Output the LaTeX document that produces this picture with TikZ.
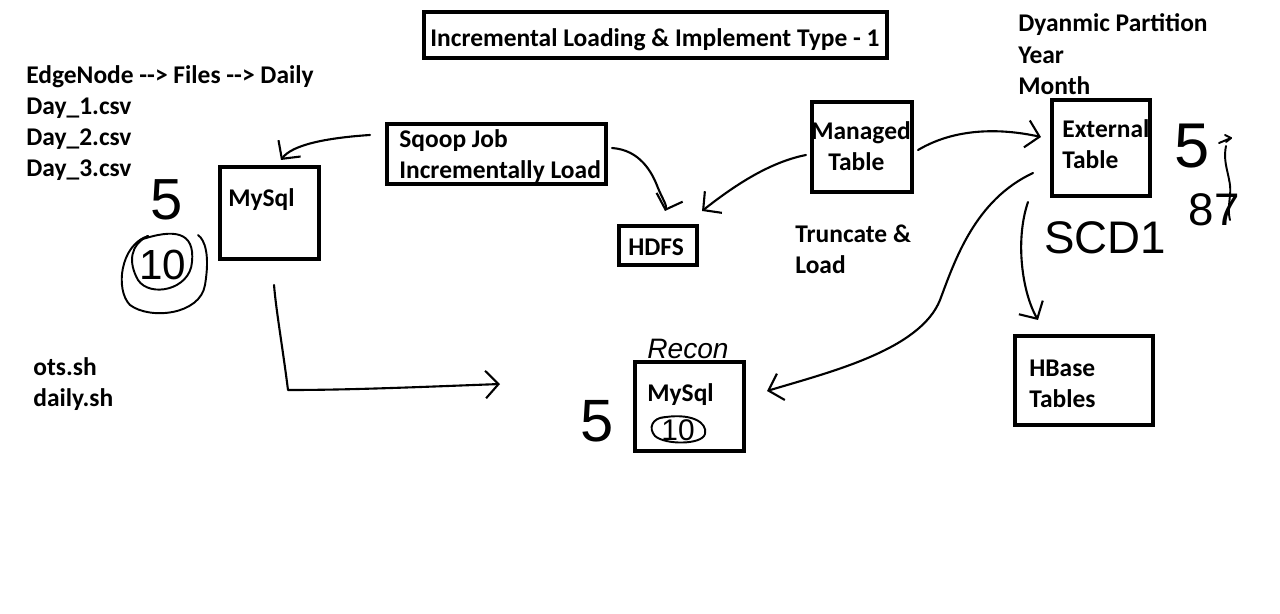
\documentclass[tikz,border=0pt]{standalone}
\usepackage{fontspec}
\setmainfont{Carlito}
\newfontfamily\hand{Liberation Sans}
\usetikzlibrary{arrows.meta,fit}
\begin{document}
\begin{tikzpicture}[x=0.02cm,y=-0.02cm,
  box/.style={draw, line width=2.3pt, inner sep=0pt},
  lbl/.style={font=\bfseries\fontsize{14.5}{17}\selectfont, inner sep=0pt, anchor=base west},
  conn/.style={line width=1.2pt, line cap=round, line join=round, -{Straight Barb[length=2.6mm,width=5.5mm,line width=1.2pt]}},
  hw/.style={font=\hand\fontsize{#1}{#1}\selectfont, inner sep=0pt},
  ink/.style={line width=1.1pt, line cap=round, line join=round}]
\useasboundingbox (0,0) rectangle (1280,613);
\fill[white] (0,0) rectangle (1280,613);

% boxes
\node[box, fit={(424,12) (887,58)}] (title) {};
\node[box, fit={(220,167) (319,259)}] (mysqlA) {};
\node[box, fit={(387,124) (606,184)}] (sqoop) {};
\node[box, fit={(619,226) (697,265)}] (hdfs) {};
\node[box, fit={(812,102) (912,192)}] (managed) {};
\node[box, fit={(1052,100) (1150,196)}] (external) {};
\node[box, fit={(1015,336) (1153,425)}] (hbase) {};
\node[box, fit={(635,362) (744,451)}] (mysqlB) {};

% labels
\node[lbl, anchor=base] (ttl) at (655,46) {Incremental Loading \& Implement Type - 1};
\node[lbl] (dp1) at (1018,31) {Dyanmic Partition};
\node[lbl] (dp2) at (1018,63) {Year};
\node[lbl] (dp3) at (1018,94) {Month};
\node[lbl] (en) at (26,83) {EdgeNode -{}-{}> Files -{}-{}> Daily};
\node[lbl] (d1) at (26,114) {Day\_1.csv};
\node[lbl] (d2) at (26,145) {Day\_2.csv};
\node[lbl] (d3) at (26,176) {Day\_3.csv};
\node[lbl] (tA) at (228,206) {MySql};
\node[lbl] (tS1) at (399,147) {Sqoop Job};
\node[lbl] (tS2) at (399,178) {Incrementally Load};
\node[lbl] (tH) at (628,255) {HDFS};
\node[lbl] (tM1) at (811,139) {Managed};
\node[lbl] (tM2) at (828,170) {Table};
\node[lbl] (tE1) at (1062,137) {External};
\node[lbl] (tE2) at (1062,168) {Table};
\node[lbl] (tr1) at (795,242) {Truncate \&};
\node[lbl] (tr2) at (795,273) {Load};
\node[lbl] (o1) at (33,375) {ots.sh};
\node[lbl] (o2) at (33,406) {daily.sh};
\node[lbl] (tB1) at (1029,376) {HBase};
\node[lbl] (tB2) at (1029,407) {Tables};
\node[lbl] (tMB) at (647,401) {MySql};

% handwritten notes
\node[hw=33] (h5a) at (167,200) {5};
\node[hw=24] (h10a) at (163,265) {10};
\draw[ink] (140,240) .. controls (175,228) and (195,232) .. (192,262) .. controls (190,290) and (150,298) .. (138,280) .. controls (128,262) and (130,245) .. (148,236);
\draw[ink] (148,236) .. controls (120,245) and (115,290) .. (130,305) .. controls (150,320) and (200,315) .. (205,285) .. controls (210,255) and (205,240) .. (198,235);
\node[hw=34] (h5b) at (597,421) {5};
\node[hw=16, font=\hand\itshape\fontsize{16}{16}\selectfont] (recon) at (688,349) {Recon};
\node[hw=17] (h10b) at (678,430) {10};
\draw[ink] (660,418) .. controls (690,412) and (708,422) .. (705,434) .. controls (702,445) and (665,445) .. (655,436) .. controls (648,428) and (652,418) .. (665,417);
\node[hw=26] (scd) at (1105,238) {SCD1};
\node[hw=36] (h5c) at (1192,146) {5};
\draw[ink] (1219,143) -- (1231,138);
\draw[ink] (1225,135) -- (1231,138) -- (1226,142);
\draw[ink] (1226,146) .. controls (1222,165) and (1232,178) .. (1230,195) .. controls (1229,205) and (1228,212) .. (1230,220);
\node[hw=26] (h87) at (1214,210) {87};

% connectors
\coordinate (gap) at (500,384);
\draw[conn] ([shift={(-15,13)}]sqoop.north west) .. controls (325,138) and (292,145) .. ([shift={(63,-5)}]mysqlA.north west);
\draw[conn] ([shift={(4,-6)}]sqoop.east) .. controls (640,150) and (652,172) .. (658,188) .. controls (663,200) and (667,205) .. ([shift={(48,-13)}]hdfs.north west);
\draw[conn] ([shift={(-4,8)}]managed.west) .. controls (770,162) and (735,185) .. ([shift={(3,-13)}]hdfs.north east);
\draw[conn] ([shift={(4,3)}]managed.east) .. controls (955,128) and (1000,128) .. ([shift={(-9,-11)}]external.west);
\draw[conn] ([shift={(-17,25)}]external.west) .. controls (975,200) and (955,260) .. (940,300) .. controls (920,350) and (830,372) .. ([shift={(21,31)}]mysqlB.north east);
\draw[conn] ([shift={(-22,4)}]external.south west) .. controls (1015,240) and (1022,292) .. ([shift={(25,-14)}]hbase.north west);
\draw[conn] ([shift={(-47,24)}]mysqlA.south east) .. controls (276,310) and (283,350) .. (288,390) .. controls (350,390) and (420,387) .. (gap);
\end{tikzpicture}
\end{document}
